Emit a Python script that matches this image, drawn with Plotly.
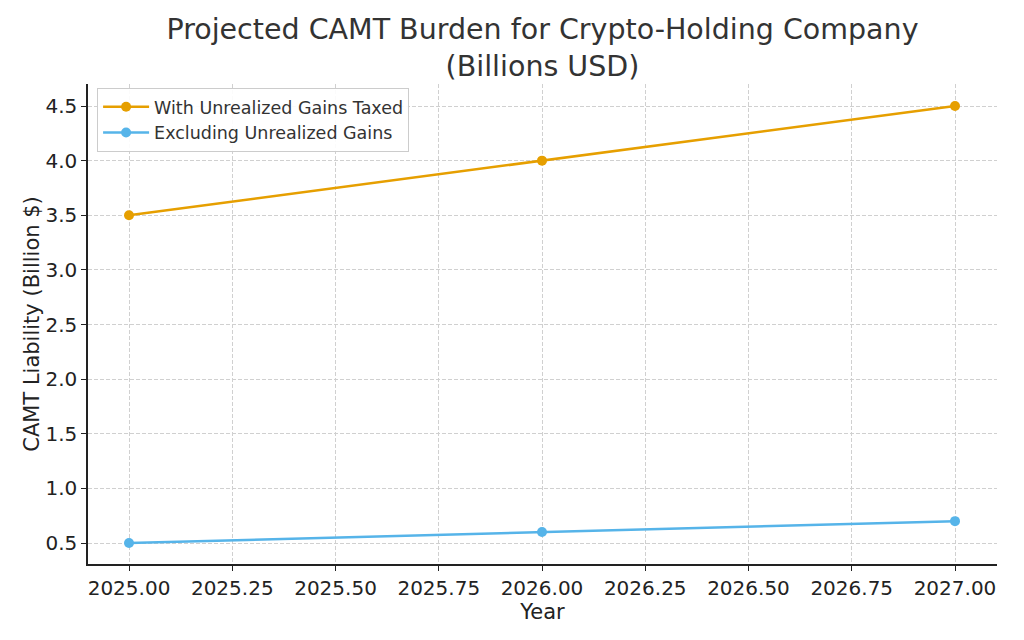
import plotly.graph_objects as go

years = [2025, 2026, 2027]
with_unrealized = [3.5, 4.0, 4.5]
excluding_unrealized = [0.5, 0.6, 0.7]
series_names = ["With Unrealized Gains Taxed", "Excluding Unrealized Gains"]
x_ticks = [2025.0, 2025.25, 2025.5, 2025.75, 2026.0, 2026.25, 2026.5, 2026.75, 2027.0]
x_tick_labels = ["2025.00", "2025.25", "2025.50", "2025.75", "2026.00", "2026.25", "2026.50", "2026.75", "2027.00"]
y_ticks = [0.5, 1.0, 1.5, 2.0, 2.5, 3.0, 3.5, 4.0, 4.5]

font = "DejaVu Sans"
fig = go.Figure()
fig.add_trace(go.Scatter(x=years, y=with_unrealized, mode="lines+markers", name=series_names[0],
                         line=dict(color="#E69F00", width=2.5), marker=dict(size=10, color="#E69F00")))
fig.add_trace(go.Scatter(x=years, y=excluding_unrealized, mode="lines+markers", name=series_names[1],
                         line=dict(color="#56B4E9", width=2.5), marker=dict(size=10, color="#56B4E9")))

axis_common = dict(showline=True, linecolor="#222222", linewidth=1.5, ticks="outside", ticklen=5,
                   tickcolor="#222222", showgrid=True, gridcolor="#d0d0d0", griddash="4px,2px", gridwidth=1,
                   zeroline=False, tickfont=dict(family=font, size=20, color="#222222"), mirror=False)

fig.update_layout(
    width=1024, height=640,
    paper_bgcolor="white", plot_bgcolor="white",
    margin=dict(l=80, r=35, t=76, b=84),
    title=dict(text="Projected CAMT Burden for Crypto-Holding Company<br>(Billions USD)",
               x=(80 + 454.5) / 1024, xanchor="center", y=0.952, yanchor="top",
               font=dict(family=font, size=28.5, color="#333333")),
    xaxis=dict(range=[2024.9007, 2027.1017], tickvals=x_ticks, ticktext=x_tick_labels,
               title=dict(text="Year", font=dict(family=font, size=21, color="#222222"), standoff=3),
               **axis_common),
    yaxis=dict(range=[0.3078, 4.7014], tickvals=y_ticks, ticktext=[f"{v:.1f}" for v in y_ticks],
               title=dict(text="CAMT Liability (Billion $)", font=dict(family=font, size=21, color="#222222"), standoff=0),
               **axis_common),
    legend=dict(x=0.01, y=0.992, xanchor="left", yanchor="top", bgcolor="rgba(255,255,255,0.9)",
                bordercolor="#cccccc", borderwidth=1, font=dict(family=font, size=17.5, color="#333333"),
                tracegroupgap=0, itemwidth=46),
    showlegend=True,
)
fig.write_html("out.html")
